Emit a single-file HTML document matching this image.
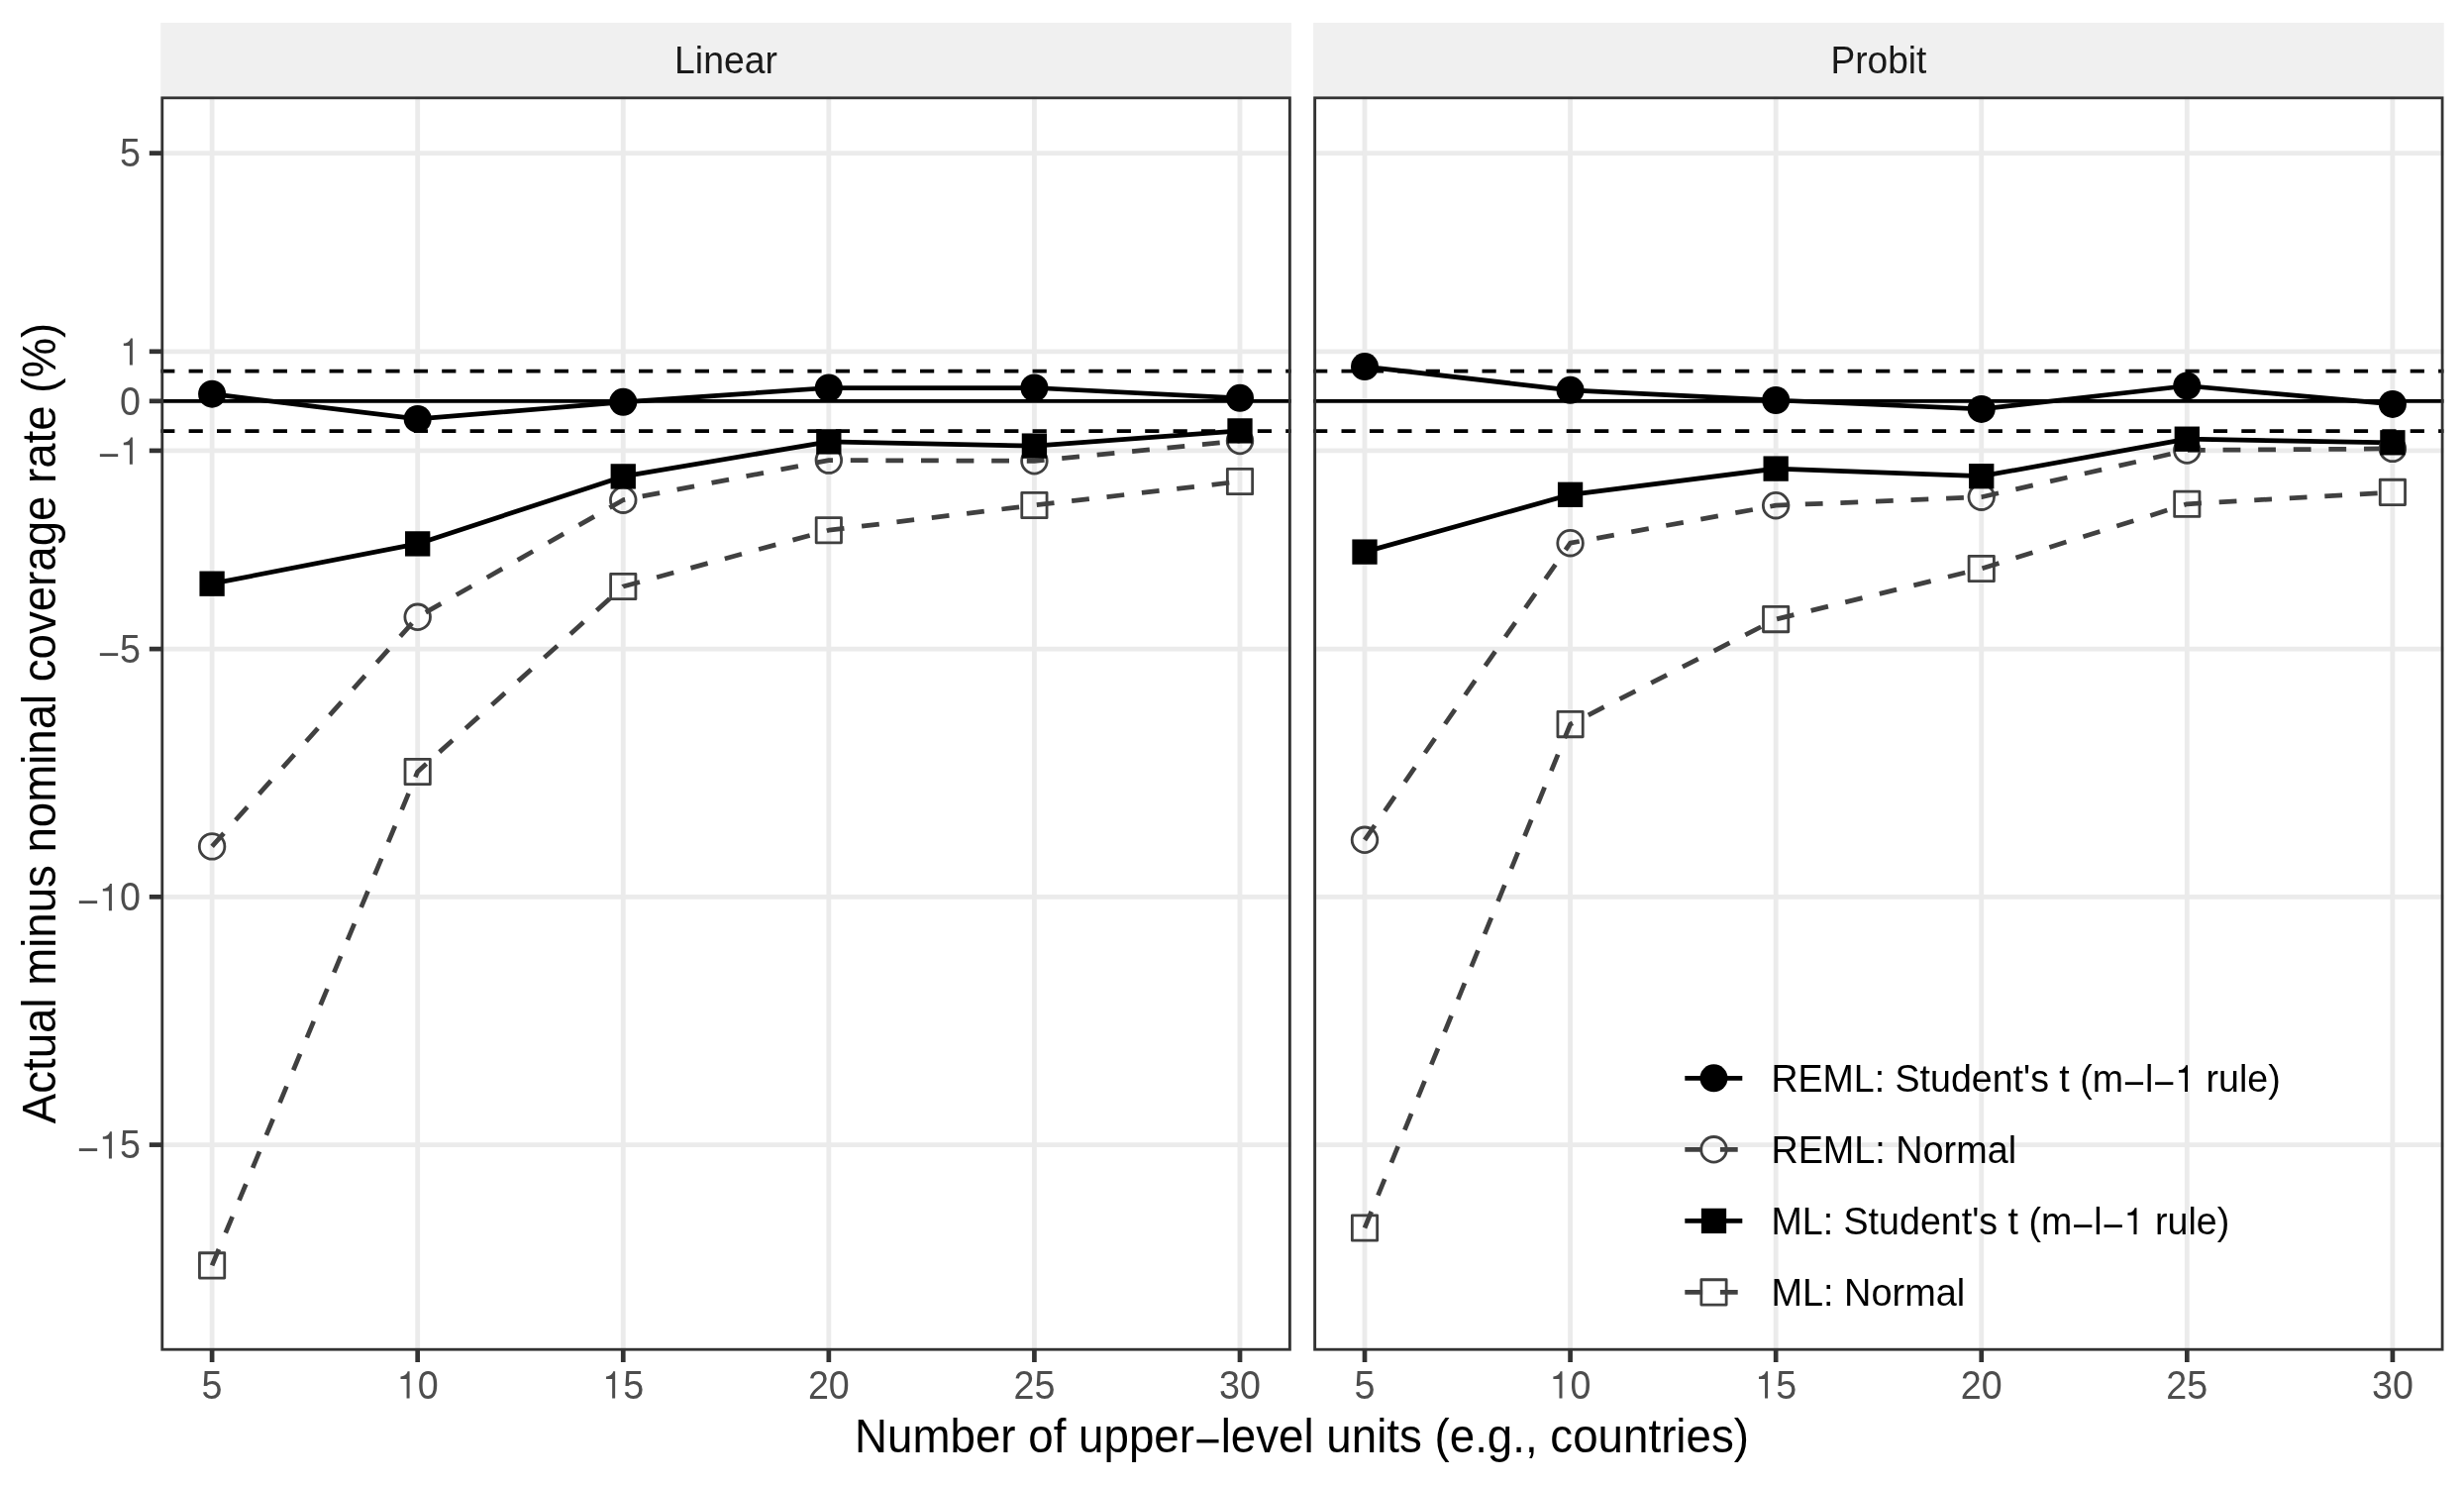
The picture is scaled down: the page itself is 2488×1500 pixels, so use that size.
<!DOCTYPE html>
<html><head><meta charset="utf-8"><style>
html,body{margin:0;padding:0;background:#fff;overflow:hidden;}
svg{display:block;will-change:transform;}
text{font-family:"Liberation Sans",sans-serif;}
.ax{font-size:37.8px;fill:#4D4D4D;}
.st{font-size:37.5px;fill:#1A1A1A;}
.lg{font-size:37.8px;fill:#000;}
.ti{font-size:45.6px;fill:#000;}
</style></head><body>
<svg width="2488" height="1500" viewBox="0 0 2488 1500">
<rect width="2488" height="1500" fill="#fff"/>
<defs><clipPath id="c1"><rect x="162.2" y="97.2" width="1141.7" height="1266.6"/></clipPath></defs>
<rect x="162.2" y="23" width="1141.7" height="74.2" fill="#F0F0F0"/>
<g clip-path="url(#c1)">
<line x1="162.2" x2="1303.9" y1="154.6" y2="154.6" stroke="#EBEBEB" stroke-width="4.85"/>
<line x1="162.2" x2="1303.9" y1="354.8" y2="354.8" stroke="#EBEBEB" stroke-width="4.85"/>
<line x1="162.2" x2="1303.9" y1="404.85" y2="404.85" stroke="#EBEBEB" stroke-width="4.85"/>
<line x1="162.2" x2="1303.9" y1="454.9" y2="454.9" stroke="#EBEBEB" stroke-width="4.85"/>
<line x1="162.2" x2="1303.9" y1="655.1" y2="655.1" stroke="#EBEBEB" stroke-width="4.85"/>
<line x1="162.2" x2="1303.9" y1="905.35" y2="905.35" stroke="#EBEBEB" stroke-width="4.85"/>
<line x1="162.2" x2="1303.9" y1="1155.6" y2="1155.6" stroke="#EBEBEB" stroke-width="4.85"/>
<line x1="214.1" x2="214.1" y1="97.2" y2="1363.8" stroke="#EBEBEB" stroke-width="4.85"/>
<line x1="421.68" x2="421.68" y1="97.2" y2="1363.8" stroke="#EBEBEB" stroke-width="4.85"/>
<line x1="629.26" x2="629.26" y1="97.2" y2="1363.8" stroke="#EBEBEB" stroke-width="4.85"/>
<line x1="836.84" x2="836.84" y1="97.2" y2="1363.8" stroke="#EBEBEB" stroke-width="4.85"/>
<line x1="1044.42" x2="1044.42" y1="97.2" y2="1363.8" stroke="#EBEBEB" stroke-width="4.85"/>
<line x1="1252" x2="1252" y1="97.2" y2="1363.8" stroke="#EBEBEB" stroke-width="4.85"/>
<line x1="162.2" x2="1303.9" y1="404.85" y2="404.85" stroke="#000" stroke-width="3.6"/>
<line x1="162.2" x2="1303.9" y1="374.62" y2="374.62" stroke="#000" stroke-width="3.6" stroke-dasharray="14.2 14.2"/>
<line x1="162.2" x2="1303.9" y1="435.08" y2="435.08" stroke="#000" stroke-width="3.6" stroke-dasharray="14.2 14.2"/>
<polyline points="214.1,397.7 421.68,422.9 629.26,405.8 836.84,391.5 1044.42,391.5 1252,401.8" fill="none" stroke="#000" stroke-width="4.75" stroke-linejoin="round"/>
<polyline points="214.1,854.4 421.68,622.8 629.26,504.7 836.84,464.6 1044.42,465.3 1252,445" fill="none" stroke="#404040" stroke-width="4.75" stroke-linejoin="round" stroke-dasharray="17.8 17.8"/>
<polyline points="214.1,589.2 421.68,548.9 629.26,480.9 836.84,445.9 1044.42,450.1 1252,434.9" fill="none" stroke="#000" stroke-width="4.75" stroke-linejoin="round"/>
<polyline points="214.1,1277.4 421.68,779 629.26,592 836.84,535.2 1044.42,510 1252,486" fill="none" stroke="#404040" stroke-width="4.75" stroke-linejoin="round" stroke-dasharray="17.8 17.8"/>
<circle cx="214.1" cy="397.7" r="14" fill="#000"/>
<circle cx="421.68" cy="422.9" r="14" fill="#000"/>
<circle cx="629.26" cy="405.8" r="14" fill="#000"/>
<circle cx="836.84" cy="391.5" r="14" fill="#000"/>
<circle cx="1044.42" cy="391.5" r="14" fill="#000"/>
<circle cx="1252" cy="401.8" r="14" fill="#000"/>
<circle cx="214.1" cy="854.4" r="12.8" fill="none" stroke="#404040" stroke-width="2.8"/>
<circle cx="421.68" cy="622.8" r="12.8" fill="none" stroke="#404040" stroke-width="2.8"/>
<circle cx="629.26" cy="504.7" r="12.8" fill="none" stroke="#404040" stroke-width="2.8"/>
<circle cx="836.84" cy="464.6" r="12.8" fill="none" stroke="#404040" stroke-width="2.8"/>
<circle cx="1044.42" cy="465.3" r="12.8" fill="none" stroke="#404040" stroke-width="2.8"/>
<circle cx="1252" cy="445" r="12.8" fill="none" stroke="#404040" stroke-width="2.8"/>
<rect x="201.45" y="576.55" width="25.3" height="25.3" fill="#000"/>
<rect x="409.03" y="536.25" width="25.3" height="25.3" fill="#000"/>
<rect x="616.61" y="468.25" width="25.3" height="25.3" fill="#000"/>
<rect x="824.19" y="433.25" width="25.3" height="25.3" fill="#000"/>
<rect x="1031.77" y="437.45" width="25.3" height="25.3" fill="#000"/>
<rect x="1239.35" y="422.25" width="25.3" height="25.3" fill="#000"/>
<rect x="201.45" y="1264.75" width="25.3" height="25.3" fill="none" stroke="#404040" stroke-width="2.8" stroke-linejoin="round"/>
<rect x="409.03" y="766.35" width="25.3" height="25.3" fill="none" stroke="#404040" stroke-width="2.8" stroke-linejoin="round"/>
<rect x="616.61" y="579.35" width="25.3" height="25.3" fill="none" stroke="#404040" stroke-width="2.8" stroke-linejoin="round"/>
<rect x="824.19" y="522.55" width="25.3" height="25.3" fill="none" stroke="#404040" stroke-width="2.8" stroke-linejoin="round"/>
<rect x="1031.77" y="497.35" width="25.3" height="25.3" fill="none" stroke="#404040" stroke-width="2.8" stroke-linejoin="round"/>
<rect x="1239.35" y="473.35" width="25.3" height="25.3" fill="none" stroke="#404040" stroke-width="2.8" stroke-linejoin="round"/>
<rect x="163.7" y="98.7" width="1138.7" height="1263.6" fill="none" stroke="#333333" stroke-width="3.0"/>
</g>
<line x1="214.1" x2="214.1" y1="1362.8" y2="1375" stroke="#333333" stroke-width="4.7"/>
<text transform="translate(214.1,1411.5) scale(1,1.065)" class="ax" style="font-size:37.7px" text-anchor="middle">5</text>
<line x1="421.68" x2="421.68" y1="1362.8" y2="1375" stroke="#333333" stroke-width="4.7"/>
<text transform="translate(421.68,1411.5) scale(1,1.065)" class="ax" style="font-size:37.7px" text-anchor="middle"> 0</text>
<line x1="629.26" x2="629.26" y1="1362.8" y2="1375" stroke="#333333" stroke-width="4.7"/>
<text transform="translate(629.26,1411.5) scale(1,1.065)" class="ax" style="font-size:37.7px" text-anchor="middle"> 5</text>
<line x1="836.84" x2="836.84" y1="1362.8" y2="1375" stroke="#333333" stroke-width="4.7"/>
<text transform="translate(836.84,1411.5) scale(1,1.065)" class="ax" style="font-size:37.7px" text-anchor="middle">20</text>
<line x1="1044.42" x2="1044.42" y1="1362.8" y2="1375" stroke="#333333" stroke-width="4.7"/>
<text transform="translate(1044.42,1411.5) scale(1,1.065)" class="ax" style="font-size:37.7px" text-anchor="middle">25</text>
<line x1="1252" x2="1252" y1="1362.8" y2="1375" stroke="#333333" stroke-width="4.7"/>
<text transform="translate(1252,1411.5) scale(1,1.065)" class="ax" style="font-size:37.7px" text-anchor="middle">30</text>
<text transform="translate(733.05,73.75) scale(1,1.055)" class="st" style="font-size:37.4px" text-anchor="middle">Linear</text>
<defs><clipPath id="c2"><rect x="1326.1" y="97.2" width="1141.6" height="1266.6"/></clipPath></defs>
<rect x="1326.1" y="23" width="1141.6" height="74.2" fill="#F0F0F0"/>
<g clip-path="url(#c2)">
<line x1="1326.1" x2="2467.7" y1="154.6" y2="154.6" stroke="#EBEBEB" stroke-width="4.85"/>
<line x1="1326.1" x2="2467.7" y1="354.8" y2="354.8" stroke="#EBEBEB" stroke-width="4.85"/>
<line x1="1326.1" x2="2467.7" y1="404.85" y2="404.85" stroke="#EBEBEB" stroke-width="4.85"/>
<line x1="1326.1" x2="2467.7" y1="454.9" y2="454.9" stroke="#EBEBEB" stroke-width="4.85"/>
<line x1="1326.1" x2="2467.7" y1="655.1" y2="655.1" stroke="#EBEBEB" stroke-width="4.85"/>
<line x1="1326.1" x2="2467.7" y1="905.35" y2="905.35" stroke="#EBEBEB" stroke-width="4.85"/>
<line x1="1326.1" x2="2467.7" y1="1155.6" y2="1155.6" stroke="#EBEBEB" stroke-width="4.85"/>
<line x1="1378" x2="1378" y1="97.2" y2="1363.8" stroke="#EBEBEB" stroke-width="4.85"/>
<line x1="1585.58" x2="1585.58" y1="97.2" y2="1363.8" stroke="#EBEBEB" stroke-width="4.85"/>
<line x1="1793.16" x2="1793.16" y1="97.2" y2="1363.8" stroke="#EBEBEB" stroke-width="4.85"/>
<line x1="2000.74" x2="2000.74" y1="97.2" y2="1363.8" stroke="#EBEBEB" stroke-width="4.85"/>
<line x1="2208.32" x2="2208.32" y1="97.2" y2="1363.8" stroke="#EBEBEB" stroke-width="4.85"/>
<line x1="2415.9" x2="2415.9" y1="97.2" y2="1363.8" stroke="#EBEBEB" stroke-width="4.85"/>
<line x1="1326.1" x2="2467.7" y1="404.85" y2="404.85" stroke="#000" stroke-width="3.6"/>
<line x1="1326.1" x2="2467.7" y1="374.62" y2="374.62" stroke="#000" stroke-width="3.6" stroke-dasharray="14.2 14.2"/>
<line x1="1326.1" x2="2467.7" y1="435.08" y2="435.08" stroke="#000" stroke-width="3.6" stroke-dasharray="14.2 14.2"/>
<polyline points="1378,370.1 1585.58,393.8 1793.16,404 2000.74,412.9 2208.32,389.5 2415.9,407.9" fill="none" stroke="#000" stroke-width="4.75" stroke-linejoin="round"/>
<polyline points="1378,847.8 1585.58,548.2 1793.16,510.2 2000.74,501.7 2208.32,454.5 2415.9,452.9" fill="none" stroke="#404040" stroke-width="4.75" stroke-linejoin="round" stroke-dasharray="17.8 17.8"/>
<polyline points="1378,557.1 1585.58,499.3 1793.16,473.1 2000.74,480.7 2208.32,443.2 2415.9,446.8" fill="none" stroke="#000" stroke-width="4.75" stroke-linejoin="round"/>
<polyline points="1378,1239.5 1585.58,731.1 1793.16,625.1 2000.74,574 2208.32,508.8 2415.9,496.9" fill="none" stroke="#404040" stroke-width="4.75" stroke-linejoin="round" stroke-dasharray="17.8 17.8"/>
<circle cx="1378" cy="370.1" r="14" fill="#000"/>
<circle cx="1585.58" cy="393.8" r="14" fill="#000"/>
<circle cx="1793.16" cy="404" r="14" fill="#000"/>
<circle cx="2000.74" cy="412.9" r="14" fill="#000"/>
<circle cx="2208.32" cy="389.5" r="14" fill="#000"/>
<circle cx="2415.9" cy="407.9" r="14" fill="#000"/>
<circle cx="1378" cy="847.8" r="12.8" fill="none" stroke="#404040" stroke-width="2.8"/>
<circle cx="1585.58" cy="548.2" r="12.8" fill="none" stroke="#404040" stroke-width="2.8"/>
<circle cx="1793.16" cy="510.2" r="12.8" fill="none" stroke="#404040" stroke-width="2.8"/>
<circle cx="2000.74" cy="501.7" r="12.8" fill="none" stroke="#404040" stroke-width="2.8"/>
<circle cx="2208.32" cy="454.5" r="12.8" fill="none" stroke="#404040" stroke-width="2.8"/>
<circle cx="2415.9" cy="452.9" r="12.8" fill="none" stroke="#404040" stroke-width="2.8"/>
<rect x="1365.35" y="544.45" width="25.3" height="25.3" fill="#000"/>
<rect x="1572.93" y="486.65" width="25.3" height="25.3" fill="#000"/>
<rect x="1780.51" y="460.45" width="25.3" height="25.3" fill="#000"/>
<rect x="1988.09" y="468.05" width="25.3" height="25.3" fill="#000"/>
<rect x="2195.67" y="430.55" width="25.3" height="25.3" fill="#000"/>
<rect x="2403.25" y="434.15" width="25.3" height="25.3" fill="#000"/>
<rect x="1365.35" y="1226.85" width="25.3" height="25.3" fill="none" stroke="#404040" stroke-width="2.8" stroke-linejoin="round"/>
<rect x="1572.93" y="718.45" width="25.3" height="25.3" fill="none" stroke="#404040" stroke-width="2.8" stroke-linejoin="round"/>
<rect x="1780.51" y="612.45" width="25.3" height="25.3" fill="none" stroke="#404040" stroke-width="2.8" stroke-linejoin="round"/>
<rect x="1988.09" y="561.35" width="25.3" height="25.3" fill="none" stroke="#404040" stroke-width="2.8" stroke-linejoin="round"/>
<rect x="2195.67" y="496.15" width="25.3" height="25.3" fill="none" stroke="#404040" stroke-width="2.8" stroke-linejoin="round"/>
<rect x="2403.25" y="484.25" width="25.3" height="25.3" fill="none" stroke="#404040" stroke-width="2.8" stroke-linejoin="round"/>
<rect x="1327.6" y="98.7" width="1138.6" height="1263.6" fill="none" stroke="#333333" stroke-width="3.0"/>
</g>
<line x1="1378" x2="1378" y1="1362.8" y2="1375" stroke="#333333" stroke-width="4.7"/>
<text transform="translate(1378,1411.5) scale(1,1.065)" class="ax" style="font-size:37.7px" text-anchor="middle">5</text>
<line x1="1585.58" x2="1585.58" y1="1362.8" y2="1375" stroke="#333333" stroke-width="4.7"/>
<text transform="translate(1585.58,1411.5) scale(1,1.065)" class="ax" style="font-size:37.7px" text-anchor="middle"> 0</text>
<line x1="1793.16" x2="1793.16" y1="1362.8" y2="1375" stroke="#333333" stroke-width="4.7"/>
<text transform="translate(1793.16,1411.5) scale(1,1.065)" class="ax" style="font-size:37.7px" text-anchor="middle"> 5</text>
<line x1="2000.74" x2="2000.74" y1="1362.8" y2="1375" stroke="#333333" stroke-width="4.7"/>
<text transform="translate(2000.74,1411.5) scale(1,1.065)" class="ax" style="font-size:37.7px" text-anchor="middle">20</text>
<line x1="2208.32" x2="2208.32" y1="1362.8" y2="1375" stroke="#333333" stroke-width="4.7"/>
<text transform="translate(2208.32,1411.5) scale(1,1.065)" class="ax" style="font-size:37.7px" text-anchor="middle">25</text>
<line x1="2415.9" x2="2415.9" y1="1362.8" y2="1375" stroke="#333333" stroke-width="4.7"/>
<text transform="translate(2415.9,1411.5) scale(1,1.065)" class="ax" style="font-size:37.7px" text-anchor="middle">30</text>
<text transform="translate(1896.9,73.75) scale(1,1.055)" class="st" style="font-size:37.1px" text-anchor="middle">Probit</text>
<line x1="150.8" x2="163.2" y1="154.6" y2="154.6" stroke="#333333" stroke-width="4.7"/>
<text transform="translate(142,168.4) scale(1,1.065)" class="ax" style="font-size:37.7px" text-anchor="end">5</text>
<line x1="150.8" x2="163.2" y1="354.8" y2="354.8" stroke="#333333" stroke-width="4.7"/>
<text transform="translate(142,368.6) scale(1,1.065)" class="ax" style="font-size:37.7px" text-anchor="end"> </text>
<line x1="150.8" x2="163.2" y1="404.85" y2="404.85" stroke="#333333" stroke-width="4.7"/>
<text transform="translate(142,418.65) scale(1,1.065)" class="ax" style="font-size:37.7px" text-anchor="end">0</text>
<line x1="150.8" x2="163.2" y1="454.9" y2="454.9" stroke="#333333" stroke-width="4.7"/>
<text transform="translate(142,468.7) scale(1,1.065)" class="ax" style="font-size:37.7px" text-anchor="end"><tspan dy="4.39">−</tspan><tspan dy="-4.39"> </tspan></text>
<line x1="150.8" x2="163.2" y1="655.1" y2="655.1" stroke="#333333" stroke-width="4.7"/>
<text transform="translate(142,668.9) scale(1,1.065)" class="ax" style="font-size:37.7px" text-anchor="end"><tspan dy="4.39">−</tspan><tspan dy="-4.39">5</tspan></text>
<line x1="150.8" x2="163.2" y1="905.35" y2="905.35" stroke="#333333" stroke-width="4.7"/>
<text transform="translate(142,919.15) scale(1,1.065)" class="ax" style="font-size:37.7px" text-anchor="end"><tspan dy="4.39">−</tspan><tspan dy="-4.39"> 0</tspan></text>
<line x1="150.8" x2="163.2" y1="1155.6" y2="1155.6" stroke="#333333" stroke-width="4.7"/>
<text transform="translate(142,1169.4) scale(1,1.065)" class="ax" style="font-size:37.7px" text-anchor="end"><tspan dy="4.39">−</tspan><tspan dy="-4.39"> 5</tspan></text>
<text transform="translate(1314.5,1465.75) scale(1,1.055)" class="ti" style="font-size:45.7px" text-anchor="middle">Number of upper<tspan dy="5.32">−</tspan><tspan dy="-5.32">level units (e.g., countries)</tspan></text>
<text transform="translate(55.8,730) rotate(-90) scale(1,1.055)" class="ti" style="font-size:45.6px" text-anchor="middle">Actual minus nominal coverage rate (%)</text>
<line x1="1701.3" x2="1759.3" y1="1088.3" y2="1088.3" stroke="#000" stroke-width="4.7"/>
<circle cx="1730.5" cy="1088.3" r="14" fill="#000"/>
<text transform="translate(1788.4,1102) scale(1,1.0543130990415335)" class="lg" style="font-size:37.56px" text-anchor="start">REML: Student's t (m<tspan dy="4.37">−</tspan><tspan dy="-4.37">l</tspan><tspan dy="4.37">−</tspan><tspan dy="-4.37">  rule)</tspan></text>
<line x1="1701.3" x2="1759.3" y1="1160.3" y2="1160.3" stroke="#404040" stroke-width="4.7" stroke-dasharray="17.8 17.8"/>
<circle cx="1730.5" cy="1160.3" r="12.8" fill="none" stroke="#404040" stroke-width="2.8"/>
<text transform="translate(1788.4,1174) scale(1,1.0481736368448915)" class="lg" style="font-size:37.78px" text-anchor="start">REML: Normal</text>
<line x1="1701.3" x2="1759.3" y1="1232.4" y2="1232.4" stroke="#000" stroke-width="4.7"/>
<rect x="1717.85" y="1219.75" width="25.3" height="25.3" fill="#000"/>
<text transform="translate(1788.4,1246.1) scale(1,1.0529114597181601)" class="lg" style="font-size:37.61px" text-anchor="start">ML: Student's t (m<tspan dy="4.38">−</tspan><tspan dy="-4.38">l</tspan><tspan dy="4.38">−</tspan><tspan dy="-4.38">  rule)</tspan></text>
<line x1="1701.3" x2="1759.3" y1="1304.4" y2="1304.4" stroke="#404040" stroke-width="4.7" stroke-dasharray="17.8 17.8"/>
<rect x="1717.85" y="1291.75" width="25.3" height="25.3" fill="none" stroke="#404040" stroke-width="2.8" stroke-linejoin="round"/>
<text transform="translate(1788.4,1318.1) scale(1,1.0448548812664908)" class="lg" style="font-size:37.9px" text-anchor="start">ML: Normal</text>
<path transform="translate(421.68,1411.5) scale(1,1.065) translate(-20.96,0) scale(37.7,-37.7)" d="M0.341,0 L0.341,0.677 L0.289,0.677 C0.272,0.618 0.225,0.556 0.100,0.549 L0.100,0.487 L0.2615,0.487 L0.2615,0 Z" fill="#4D4D4D"/>
<path transform="translate(629.26,1411.5) scale(1,1.065) translate(-20.96,0) scale(37.7,-37.7)" d="M0.341,0 L0.341,0.677 L0.289,0.677 C0.272,0.618 0.225,0.556 0.100,0.549 L0.100,0.487 L0.2615,0.487 L0.2615,0 Z" fill="#4D4D4D"/>
<path transform="translate(1585.58,1411.5) scale(1,1.065) translate(-20.96,0) scale(37.7,-37.7)" d="M0.341,0 L0.341,0.677 L0.289,0.677 C0.272,0.618 0.225,0.556 0.100,0.549 L0.100,0.487 L0.2615,0.487 L0.2615,0 Z" fill="#4D4D4D"/>
<path transform="translate(1793.16,1411.5) scale(1,1.065) translate(-20.96,0) scale(37.7,-37.7)" d="M0.341,0 L0.341,0.677 L0.289,0.677 C0.272,0.618 0.225,0.556 0.100,0.549 L0.100,0.487 L0.2615,0.487 L0.2615,0 Z" fill="#4D4D4D"/>
<path transform="translate(142,368.6) scale(1,1.065) translate(-20.97,0) scale(37.7,-37.7)" d="M0.341,0 L0.341,0.677 L0.289,0.677 C0.272,0.618 0.225,0.556 0.100,0.549 L0.100,0.487 L0.2615,0.487 L0.2615,0 Z" fill="#4D4D4D"/>
<path transform="translate(142,468.7) scale(1,1.065) translate(-20.98,0) scale(37.7,-37.7)" d="M0.341,0 L0.341,0.677 L0.289,0.677 C0.272,0.618 0.225,0.556 0.100,0.549 L0.100,0.487 L0.2615,0.487 L0.2615,0 Z" fill="#4D4D4D"/>
<path transform="translate(142,919.15) scale(1,1.065) translate(-41.94,0) scale(37.7,-37.7)" d="M0.341,0 L0.341,0.677 L0.289,0.677 C0.272,0.618 0.225,0.556 0.100,0.549 L0.100,0.487 L0.2615,0.487 L0.2615,0 Z" fill="#4D4D4D"/>
<path transform="translate(142,1169.4) scale(1,1.065) translate(-41.94,0) scale(37.7,-37.7)" d="M0.341,0 L0.341,0.677 L0.289,0.677 C0.272,0.618 0.225,0.556 0.100,0.549 L0.100,0.487 L0.2615,0.487 L0.2615,0 Z" fill="#4D4D4D"/>
<path transform="translate(1788.4,1102) scale(1,1.0543130990415335) translate(407.81,0) scale(37.56,-37.56)" d="M0.341,0 L0.341,0.677 L0.289,0.677 C0.272,0.618 0.225,0.556 0.100,0.549 L0.100,0.487 L0.2615,0.487 L0.2615,0 Z" fill="#000"/>
<path transform="translate(1788.4,1246.1) scale(1,1.0529114597181601) translate(356.25,0) scale(37.61,-37.61)" d="M0.341,0 L0.341,0.677 L0.289,0.677 C0.272,0.618 0.225,0.556 0.100,0.549 L0.100,0.487 L0.2615,0.487 L0.2615,0 Z" fill="#000"/>
</svg>
</body></html>
